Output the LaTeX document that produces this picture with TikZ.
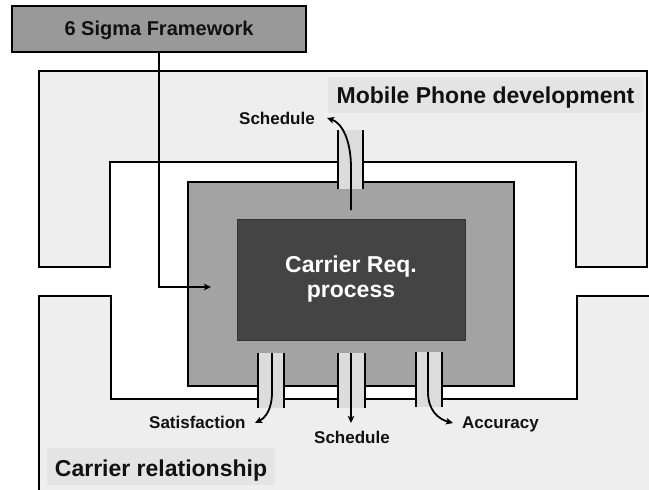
\documentclass[tikz,border=0pt]{standalone}
\usepackage{fontspec}
\setmainfont{Liberation Sans}
\usetikzlibrary{arrows.meta}
\definecolor{shapefill}{HTML}{EEEEEE}
\definecolor{labelfill}{HTML}{E4E4E4}
\definecolor{midfill}{HTML}{A3A3A3}
\definecolor{corefill}{HTML}{444444}
\definecolor{coreline}{HTML}{333333}
\definecolor{sigmafill}{HTML}{999999}
\definecolor{pipefill}{HTML}{DCDCDC}
\definecolor{ink}{HTML}{111111}
\begin{document}
\begin{tikzpicture}[x=1pt,y=-1pt,
  wall/.style={draw=black,line width=2pt,fill=shapefill,line join=miter},
  labelbox/.style={fill=labelfill,inner sep=2pt,text=ink,font=\fontsize{23}{25}\selectfont\bfseries},
  smalllabel/.style={inner sep=0pt,text=ink,font=\fontsize{17}{20}\selectfont\bfseries,anchor=base west},
  pipebody/.style={fill=pipefill},
  pipewall/.style={draw=black,line width=2pt},
  flow/.style={draw=black,line width=1.8pt,-{Stealth[length=7pt,width=6.5pt,inset=1.5pt]}},
]
\useasboundingbox (0,0) rectangle (649,490);
\fill[white] (0,0) rectangle (649,490);

% outer regions
\draw[wall] (39,71) -- (647,71) -- (647,267) -- (576,267) -- (576,162)
  -- (110,162) -- (110,267) -- (39,267) -- cycle;
\draw[wall] (39,505) -- (39,296) -- (111,296) -- (111,399) -- (577,399)
  -- (577,296) -- (652,296) -- (652,505);

% region labels
\node[labelbox,minimum width=315pt,minimum height=36pt,text height=18pt,text depth=2pt]
  (mobile) at (485.5,95) {Mobile Phone development};
\node[labelbox,minimum width=228pt,minimum height=37pt,text height=21pt,text depth=2pt]
  (carrier) at (161,466.5) {Carrier relationship};

% process boxes
\node[draw=black,line width=2pt,fill=midfill,minimum width=326pt,minimum height=204pt,inner sep=0pt]
  (midbox) at (351,284) {};
\node[draw=coreline,line width=0.8pt,fill=corefill,minimum width=228pt,minimum height=121pt,
  align=center,text=white,font=\fontsize{23}{25}\selectfont\bfseries,inner sep=0pt]
  (core) at (351,279.5) {Carrier Req.\\process};

% pipes
\fill[pipebody] (338,130) rectangle (363,189);
\draw[pipewall] (338,130) -- (338,189) (363,130) -- (363,189);
\fill[pipebody] (258,353) rectangle (284,408);
\draw[pipewall] (258,353) -- (258,408) (284,353) -- (284,408);
\fill[pipebody] (338,353) rectangle (365,408);
\draw[pipewall] (338,353) -- (338,408) (365,353) -- (365,408);
\fill[pipebody] (416,352) rectangle (442,407);
\draw[pipewall] (416,352) -- (416,407) (442,352) -- (442,407);

% flow labels
\node[smalllabel] (schedtop) at (239,124) {Schedule};
\node[smalllabel] (satis) at (149,428) {Satisfaction};
\node[smalllabel] (schedbot) at (314,443) {Schedule};
\node[smalllabel] (accur) at (462,428) {Accuracy};

% flow arrows
\coordinate (topstart) at (351,210);
\coordinate (toptip) at (327,118);
\coordinate (satstart) at (272,353);
\coordinate (sattip) at (255,423);
\coordinate (schstart) at (351,353);
\coordinate (schtip) at (351,423);
\coordinate (accstart) at (428,352);
\coordinate (acctip) at (453,423);
\draw[flow] (topstart) -- (351,168) .. controls (351,140) and (342,123) .. (toptip);
\draw[flow] (satstart) -- (272,392) .. controls (272,410) and (265,418) .. (sattip);
\draw[flow] (schstart) -- (schtip);
\draw[flow] (accstart) -- (428,392) .. controls (428,410) and (438,419) .. (acctip);

% 6 sigma framework
\node[draw=black,line width=2pt,fill=sigmafill,minimum width=294pt,minimum height=46pt,
  text height=14pt,text depth=2pt,inner sep=2pt,text=ink,font=\fontsize{20}{22}\selectfont\bfseries]
  (sigma) at (159,29) {6 Sigma Framework};
\coordinate (sigmatip) at (211,287);
\draw[flow] (sigma.south) |- (sigmatip);
\end{tikzpicture}
\end{document}
